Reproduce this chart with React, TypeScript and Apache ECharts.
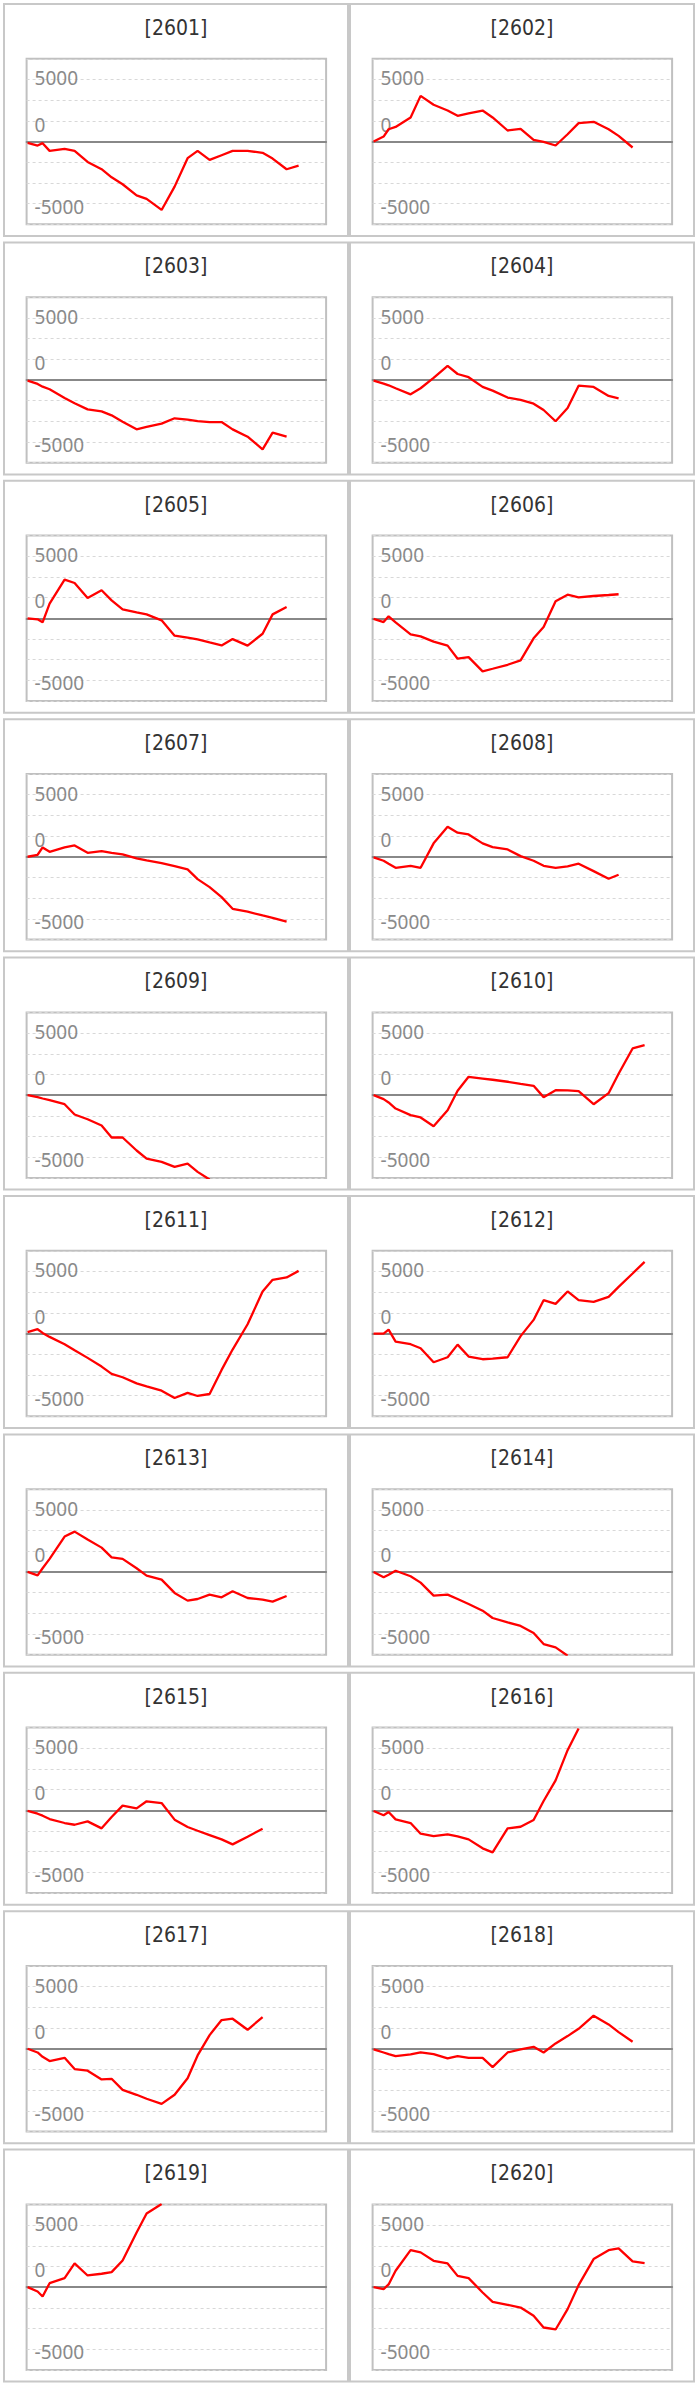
import React, { useEffect, useRef } from "react";
import * as echarts from "echarts";

// panel codes (titles)
const CODES = [
  "2601", "2602", "2603", "2604", "2605", "2606", "2607", "2608", "2609", "2610",
  "2611", "2612", "2613", "2614", "2615", "2616", "2617", "2618", "2619", "2620",
];

// shared x positions of the observations
const DAYS = [0, 2, 3, 4.4, 7.4, 9.4, 12, 14.8, 16.8, 19, 21.8, 23.8, 26.8, 29.4, 32, 34, 36.4, 38.8, 41, 44, 47, 49, 51.8, 54.2];

// y-axis labels that are shown
const Y_LABELS = [5000, 0, -5000];

const S2601 = [-100, -320, -130, -750, -590, -750, -1640, -2230, -2880, -3440, -4330, -4620, -5510, -3630, -1340, -750, -1480, -1100, -750, -750, -910, -1370, -2230, -1940];
const S2602 = [0, 400, 990, 1180, 1940, 3680, 2960, 2500, 2070, 2260, 2500, 1940, 890, 1020, 130, -30, -320, 590, 1480, 1590, 990, 460, -480];
const S2603 = [-50, -320, -540, -750, -1450, -1880, -2370, -2530, -2850, -3360, -3980, -3790, -3520, -3090, -3200, -3310, -3390, -3390, -3980, -4570, -5590, -4250, -4570];
const S2604 = [-50, -300, -430, -670, -1160, -670, 160, 1130, 480, 220, -560, -860, -1420, -1610, -1910, -2420, -3330, -2260, -460, -560, -1290, -1480];
const S2605 = [0, -80, -320, 1180, 3120, 2850, 1640, 2260, 1450, 730, 480, 320, -160, -1400, -1560, -1690, -1940, -2180, -1670, -2200, -1240, 320, 910];
const S2606 = [-50, -300, 160, -320, -1290, -1450, -1880, -2200, -3250, -3120, -4270, -4060, -3740, -3390, -1610, -700, 1370, 1910, 1690, 1800, 1880, 1940];
const S2607 = [0, 160, 750, 400, 750, 910, 320, 460, 320, 190, -130, -300, -510, -750, -1020, -1800, -2450, -3250, -4190, -4430, -4730, -4920, -5220];
const S2608 = [-50, -320, -560, -890, -730, -890, 1080, 2420, 1940, 1800, 1080, 780, 590, 50, -320, -730, -890, -780, -560, -1160, -1770, -1450];
const S2609 = [0, -160, -270, -400, -730, -1560, -1940, -2450, -3410, -3410, -4460, -5110, -5380, -5780, -5510, -6180, -6800];
const S2610 = [0, -320, -590, -1080, -1610, -1800, -2500, -1210, 350, 1480, 1340, 1240, 1080, 910, 750, -160, 400, 380, 320, -730, 160, 1720, 3760, 4030];
const S2611 = [110, 350, 50, -270, -860, -1340, -1960, -2660, -3250, -3520, -4010, -4250, -4600, -5190, -4780, -5030, -4870, -2930, -1290, 750, 3390, 4330, 4520, 5050];
const S2612 = [0, 0, 320, -650, -860, -1180, -2310, -1910, -890, -1850, -2070, -2020, -1910, -210, 1100, 2690, 2390, 3390, 2690, 2550, 2960, 3760, 4840, 5780];
const S2613 = [0, -270, 300, 1050, 2850, 3250, 2610, 1960, 1180, 1050, 300, -300, -620, -1690, -2310, -2180, -1830, -2040, -1560, -2100, -2230, -2390, -1940];
const S2614 = [0, -430, -220, 100, -350, -860, -1910, -1830, -2180, -2580, -3120, -3710, -4060, -4350, -4920, -5810, -6080, -6750];
const S2615 = [-50, -270, -430, -700, -1020, -1160, -890, -1450, -540, 380, 160, 730, 590, -750, -1340, -1640, -1990, -2340, -2740, -2120, -1480];
const S2616 = [-50, -400, -130, -730, -1020, -1880, -2070, -1940, -2100, -2340, -3060, -3390, -1450, -1320, -780, 750, 2420, 4850, 6600];
const S2617 = [0, -300, -650, -990, -730, -1640, -1770, -2470, -2420, -3310, -3710, -4030, -4440, -3710, -2370, -540, 1100, 2310, 2420, 1530, 2550];
const S2618 = [-50, -300, -430, -590, -460, -300, -430, -780, -590, -730, -730, -1480, -300, -50, 160, -300, 430, 1020, 1610, 2660, 1960, 1340, 560];
const S2619 = [0, -350, -750, 320, 730, 1910, 940, 1080, 1210, 2150, 4410, 5940, 6700];
const S2620 = [0, -160, 220, 1320, 2980, 2800, 2120, 1910, 910, 730, -430, -1180, -1420, -1640, -2310, -3250, -3410, -1770, 160, 2260, 2980, 3120, 2070, 1940];

const SERIES = [
  S2601, S2602, S2603, S2604, S2605, S2606, S2607, S2608, S2609, S2610,
  S2611, S2612, S2613, S2614, S2615, S2616, S2617, S2618, S2619, S2620,
];

const W = 699;
const H = 2386;

export default function App() {
  const ref = useRef<HTMLDivElement>(null);

  useEffect(() => {
    if (!ref.current) return;
    const chart = echarts.init(ref.current, null, { renderer: "svg" });

    const ROW_PITCH = 238.4;
    const TOP0 = 3;
    const PANEL_W = 346;
    const PANEL_H = 234;
    const COL_X = [3, 349];
    const PLOT_DX = 23.6;
    const PLOT_DY = 55.8;
    const PLOT_W = 299.5;
    const PLOT_H = 165.5;

    const step = 5000 / 3;
    const xMin = -0.2;
    const xMax = xMin + PLOT_W / 5;

    const grids: any[] = [];
    const xAxes: any[] = [];
    const yAxes: any[] = [];
    const series: any[] = [];
    const graphics: any[] = [];

    const labelFont = { fontSize: 19, color: "#8a8a8a", fontFamily: "Noto Sans" };

    CODES.forEach((code, i) => {
      const row = Math.floor(i / 2);
      const col = i % 2;
      const px = COL_X[col];
      const py = TOP0 + row * ROW_PITCH;

      graphics.push({
        type: "rect",
        silent: true,
        shape: { x: px + 1, y: py + 1, width: PANEL_W - 2, height: PANEL_H - 2 },
        style: { fill: "none", stroke: "#c8c8c8", lineWidth: 2 },
      });
      graphics.push({
        type: "text",
        silent: true,
        x: px + PANEL_W / 2,
        y: py + 24.5,
        scaleX: 0.9,
        style: {
          text: "[" + code + "]",
          fill: "#333333",
          fontSize: 21,
          fontFamily: "DejaVu Sans",
          align: "center",
          verticalAlign: "middle",
        },
      });

      grids.push({
        left: px + PLOT_DX,
        top: py + PLOT_DY,
        width: PLOT_W,
        height: PLOT_H,
        show: true,
        borderColor: "#c0c0c0",
        borderWidth: 2,
        backgroundColor: "transparent",
        containLabel: false,
      });

      xAxes.push({
        type: "value",
        gridIndex: i,
        min: xMin,
        max: xMax,
        axisLabel: { show: false },
        axisTick: { show: false },
        splitLine: { show: false },
        axisLine: { show: true, onZero: true, lineStyle: { color: "#888888", width: 2 } },
      });

      yAxes.push({
        type: "value",
        gridIndex: i,
        min: -4 * step,
        max: 4 * step,
        interval: step,
        axisLine: { show: false },
        axisTick: { show: false },
        splitLine: { show: true, lineStyle: { color: "#d8d8d8", type: [3, 3], width: 1 } },
        axisLabel: {
          show: true,
          inside: true,
          margin: 8,
          ...labelFont,
          formatter: (v: number) => {
            const r = Math.round(v);
            if (r === Y_LABELS[0]) return "{a|" + Y_LABELS[0] + "}";
            if (r === Y_LABELS[1]) return "{z|" + Y_LABELS[1] + "}";
            if (r === Y_LABELS[2]) return "{n|" + Y_LABELS[2] + "}";
            return "";
          },
          rich: {
            a: { ...labelFont, padding: [0, 0, 2, 0] },
            z: { ...labelFont, padding: [0, 0, 34, 0] },
            n: { ...labelFont, padding: [6, 0, 0, 0] },
          },
        },
      });

      const vals = SERIES[i];
      series.push({
        type: "line",
        xAxisIndex: i,
        yAxisIndex: i,
        data: vals.map((v, k) => [DAYS[k], v]),
        showSymbol: false,
        symbol: "none",
        clip: true,
        silent: true,
        lineStyle: { color: "#ff0000", width: 2.3 },
        z: 3,
      });
    });

    chart.setOption({
      animation: false,
      grid: grids,
      xAxis: xAxes,
      yAxis: yAxes,
      series,
      graphic: { elements: graphics },
    });

    return () => {
      chart.dispose();
    };
  }, []);

  return (
    <div
      ref={ref}
      style={{ position: "absolute", left: 0, top: 0, width: W, height: H, background: "#ffffff" }}
    />
  );
}
